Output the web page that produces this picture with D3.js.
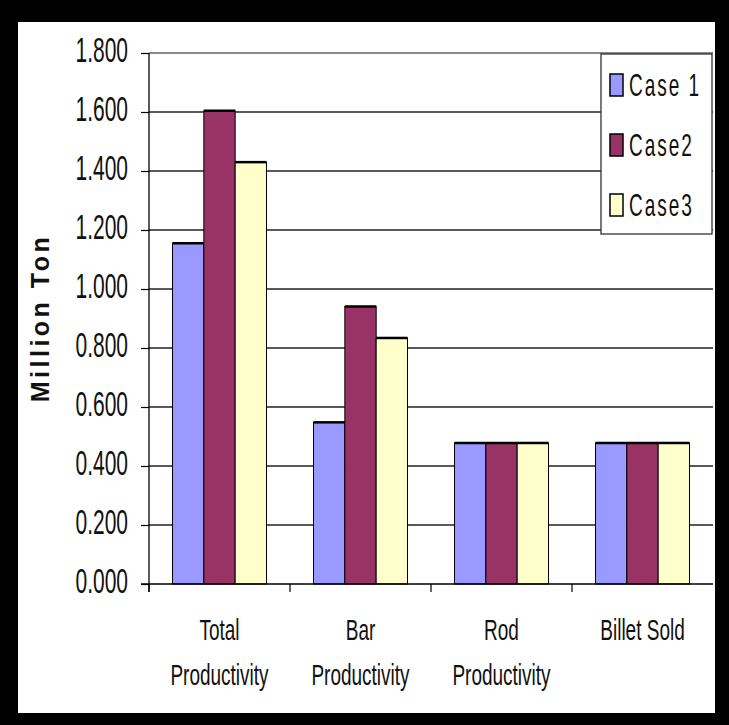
<!DOCTYPE html>
<html><head><meta charset="utf-8">
<script src="https://cdn.jsdelivr.net/npm/d3@7"></script>
<style>body{margin:0;background:#000;overflow:hidden} svg{display:block}</style>
</head><body><svg id="c" width="729" height="725"></svg>
<script>
const categoryKeys = ["Total Productivity","Bar Productivity","Rod Productivity","Billet Sold"];
const categoryLines = [["Total","Productivity"],["Bar","Productivity"],["Rod","Productivity"],["Billet Sold"]];
const seriesNames = ["Case 1","Case2","Case3"];
const case1 = [1.155, 0.548, 0.478, 0.478];
const case2 = [1.604, 0.941, 0.478, 0.478];
const case3 = [1.430, 0.834, 0.478, 0.478];
const yTicks = [0, 0.2, 0.4, 0.6, 0.8, 1.0, 1.2, 1.4, 1.6, 1.8];
const yTickLabels = ["0.000","0.200","0.400","0.600","0.800","1.000","1.200","1.400","1.600","1.800"];
const colors = ["#9999FF","#993366","#FFFFCC"];
const yTitle = "Million Ton";

const series = [case1, case2, case3];
const svg = d3.select("#c");
const FONT = "'Liberation Sans', Arial, sans-serif";

svg.append("rect").attr("x",0).attr("y",0).attr("width",729).attr("height",725).attr("fill","#000");
svg.append("rect").attr("x",18).attr("y",22).attr("width",697).attr("height",691).attr("fill","#fff");

const L = 149, R = 713, T = 53, B = 584;
const y = d3.scaleLinear().domain([0,1.8]).range([B,T]);
const x0 = d3.scaleBand().domain(categoryKeys).range([L,R]).paddingInner(1/3).paddingOuter(1/6);
const x1 = d3.scaleBand().domain(seriesNames).range([0,x0.bandwidth()]);

// gridlines
svg.append("g").selectAll("line").data(yTicks.filter(d=>d>0)).join("line")
  .attr("x1",L).attr("x2",R).attr("y1",d=>y(d)).attr("y2",d=>y(d))
  .attr("stroke",d=>d===1.8?"#8a8a8a":"#222").attr("stroke-width",d=>d===1.8?2:1.4);

// bars
const rows = categoryKeys.map((k,i)=>({k, vals: seriesNames.map((s,j)=>({s, v: series[j][i], c: colors[j]}))}));
const g = svg.append("g").selectAll("g").data(rows).join("g").attr("transform",d=>`translate(${x0(d.k)},0)`);
g.selectAll("rect").data(d=>d.vals).join("rect")
  .attr("x",d=>x1(d.s)).attr("width",x1.bandwidth())
  .attr("y",d=>y(d.v)).attr("height",d=>B-y(d.v))
  .attr("fill",d=>d.c).attr("stroke","#000").attr("stroke-width",1);
g.selectAll("line.top").data(d=>d.vals).join("line").attr("class","top")
  .attr("x1",d=>x1(d.s)).attr("x2",d=>x1(d.s)+x1.bandwidth())
  .attr("y1",d=>y(d.v)).attr("y2",d=>y(d.v)).attr("stroke","#000").attr("stroke-width",2.5);

// y axis
const yAxis = svg.append("g").attr("transform",`translate(${L},0)`)
  .call(d3.axisLeft(y).tickValues(yTicks).tickSize(8).tickSizeOuter(0).tickFormat((d,i)=>yTickLabels[i]));
yAxis.select(".domain").remove();
yAxis.selectAll(".tick line").attr("stroke","#000").attr("stroke-width",1.2);
yAxis.selectAll(".tick text").attr("x",null).attr("dy",null).attr("y",7.5)
  .attr("transform","translate(-21,-4) scale(1,1.7)")
  .attr("font-family",FONT).attr("font-size",21).attr("fill","#111").attr("text-anchor","end");
svg.append("line").attr("x1",L).attr("x2",L).attr("y1",T).attr("y2",B+8).attr("stroke","#000").attr("stroke-width",1.3);

// x axis
svg.append("line").attr("x1",L-8).attr("x2",R).attr("y1",B).attr("y2",B).attr("stroke","#000").attr("stroke-width",1.3);
const bounds = categoryKeys.map(k=>x0(k)-x0.step()*x0.paddingInner()/2);
svg.append("g").selectAll("line").data(bounds).join("line")
  .attr("x1",d=>d).attr("x2",d=>d).attr("y1",B).attr("y2",B+8).attr("stroke","#000").attr("stroke-width",1.2);

// x labels
categoryKeys.forEach((k,i)=>{
  const cx = x0(k)+x0.bandwidth()/2;
  categoryLines[i].forEach((line,li)=>{
    svg.append("text").attr("transform",`translate(${cx},${640+li*45}) scale(1,1.6)`)
      .attr("text-anchor","middle").attr("font-family",FONT).attr("font-size",19).attr("fill","#111").text(line);
  });
});

// y title
svg.append("text").attr("transform","translate(49,318) rotate(-90)")
  .attr("text-anchor","middle").attr("font-family",FONT).attr("font-weight","bold")
  .attr("font-size",25).attr("letter-spacing",3.5).attr("fill","#111").text(yTitle);

// legend
svg.append("rect").attr("x",601).attr("y",54).attr("width",111).attr("height",180)
  .attr("fill","#fff").attr("stroke","#333").attr("stroke-width",1.3);
const leg = svg.append("g").selectAll("g").data(seriesNames).join("g")
  .attr("transform",(d,i)=>`translate(610,${85+i*60})`);
leg.append("rect").attr("x",0).attr("y",-11).attr("width",13).attr("height",22)
  .attr("fill",(d,i)=>colors[i]).attr("stroke","#000").attr("stroke-width",1.5);
leg.append("text").attr("transform","translate(19,0) scale(1,1.65)").attr("y",6.8)
  .attr("font-family",FONT).attr("font-size",19).attr("letter-spacing",2).attr("fill","#111").text(d=>d);
</script></body></html>
